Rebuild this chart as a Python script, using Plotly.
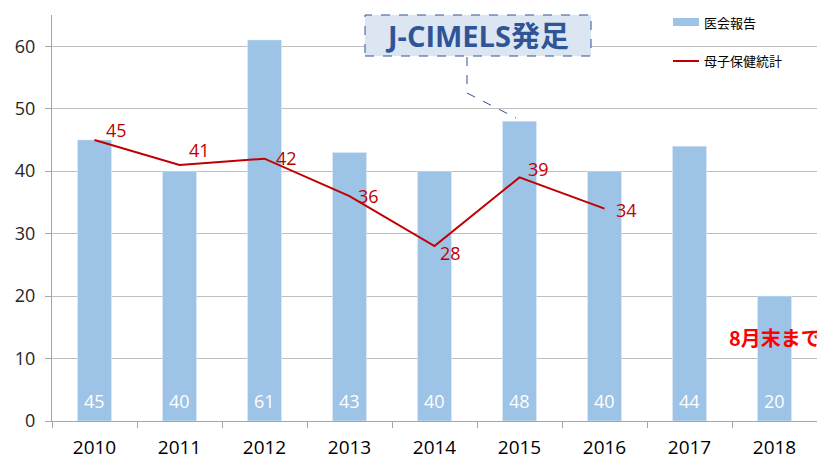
import plotly.graph_objects as go

years = ["2010", "2011", "2012", "2013", "2014", "2015", "2016", "2017", "2018"]
ikai = [45, 40, 61, 43, 40, 48, 40, 44, 20]
boshi_years = ["2010", "2011", "2012", "2013", "2014", "2015", "2016"]
boshi = [45, 41, 42, 36, 28, 39, 34]
# pixel offsets of each line label from its point (style only)
boshi_dx = [22, 20, 22, 19, 16, 19, 22]
boshi_dy = [10, 15, 1, 0, -7, 8, -1]

FONT = "Open Sans, Noto Sans CJK JP, sans-serif"
JP = "Noto Sans CJK JP, sans-serif"

fig = go.Figure()
fig.add_trace(go.Bar(
    x=years, y=ikai, name="医会報告", marker_color="#9dc3e6",
    width=0.4, showlegend=False,
))
fig.add_trace(go.Scatter(
    x=boshi_years, y=boshi, name="母子保健統計", mode="lines",
    line=dict(color="#c00000", width=2), showlegend=False,
))

# screen pixel -> paper coordinates (plot area spans x 52..817, y 15..421 on screen)
def px2x(px):
    return (px - 52) / 765

def py2y(py):
    return (421 - py) / 406

shapes = [
    dict(type="rect", xref="paper", yref="paper", x0=px2x(673), x1=px2x(699),
         y0=py2y(26), y1=py2y(18), fillcolor="#9dc3e6", line=dict(width=0)),
    dict(type="line", xref="paper", yref="paper", x0=px2x(673), x1=px2x(699),
         y0=py2y(61), y1=py2y(61), line=dict(color="#c00000", width=2)),
    dict(type="rect", xref="paper", yref="paper", x0=px2x(365), x1=px2x(591),
         y0=py2y(56), y1=py2y(15), fillcolor="#dce6f2",
         line=dict(color="#2f5597", width=1, dash="dash")),
    dict(type="path", xref="paper", yref="paper",
         path=f"M {px2x(467)},{py2y(57)} L {px2x(467)},{py2y(93)} L {px2x(516)},{py2y(118)}",
         line=dict(color="#2f5597", width=1, dash="dash")),
]

annotations = [
    dict(xref="paper", yref="paper", x=px2x(702), y=py2y(22), text="医会報告",
         showarrow=False, xanchor="left", yanchor="middle",
         font=dict(size=13, color="#000000", family=JP)),
    dict(xref="paper", yref="paper", x=px2x(702), y=py2y(61), text="母子保健統計",
         showarrow=False, xanchor="left", yanchor="middle",
         font=dict(size=13, color="#000000", family=JP)),
    dict(xref="paper", yref="paper", x=px2x(477), y=py2y(36), text="<b>J-CIMELS発足</b>",
         showarrow=False, xanchor="center", yanchor="middle",
         font=dict(size=29, color="#2f5597", family=FONT)),
    dict(xref="x", yref="y", x=years.index("2018"), y=13.3, text="<b>8月末まで</b>",
         showarrow=False, xanchor="center", yanchor="middle",
         font=dict(size=20, color="#ff0000", family=JP)),
]
for i, v in enumerate(ikai):
    annotations.append(dict(xref="x", yref="y", x=i, y=0, text=str(v),
                            showarrow=False, xanchor="center", yanchor="bottom",
                            yshift=6, font=dict(size=18, color="white", family=FONT)))
for yr, v, dx, dy in zip(boshi_years, boshi, boshi_dx, boshi_dy):
    annotations.append(dict(xref="x", yref="y", x=years.index(yr), y=v, text=str(v),
                            showarrow=False, xanchor="center", yanchor="middle",
                            xshift=dx, yshift=dy,
                            font=dict(size=18, color="#c00000", family=FONT)))

# page body has an 8px margin: figure sits at (8,8) on screen
fig.update_layout(
    width=817, height=453,
    margin=dict(l=44, r=8, t=7, b=40, autoexpand=False),
    paper_bgcolor="white", plot_bgcolor="white",
    font=dict(family=FONT),
    shapes=shapes, annotations=annotations,
    showlegend=False,
)
fig.update_xaxes(
    type="category", range=[-0.5, len(years) - 0.5], showline=True,
    linecolor="#a6a6a6", linewidth=1,
    ticks="outside", tickson="boundaries", ticklen=6, tickcolor="#a6a6a6",
    ticklabelstandoff=9,
    tickfont=dict(size=19, color="#000000"), showgrid=False, automargin=False,
)
fig.update_yaxes(
    range=[0, 65], tickvals=[0, 10, 20, 30, 40, 50, 60],
    showline=True, linecolor="#a6a6a6", linewidth=1,
    ticks="outside", ticklen=6, tickcolor="#a6a6a6",
    ticklabelstandoff=6,
    tickfont=dict(size=18, color="#262626"),
    showgrid=True, gridcolor="#bfbfbf", gridwidth=1, zeroline=False, automargin=False,
)
fig.write_html("out.html")
